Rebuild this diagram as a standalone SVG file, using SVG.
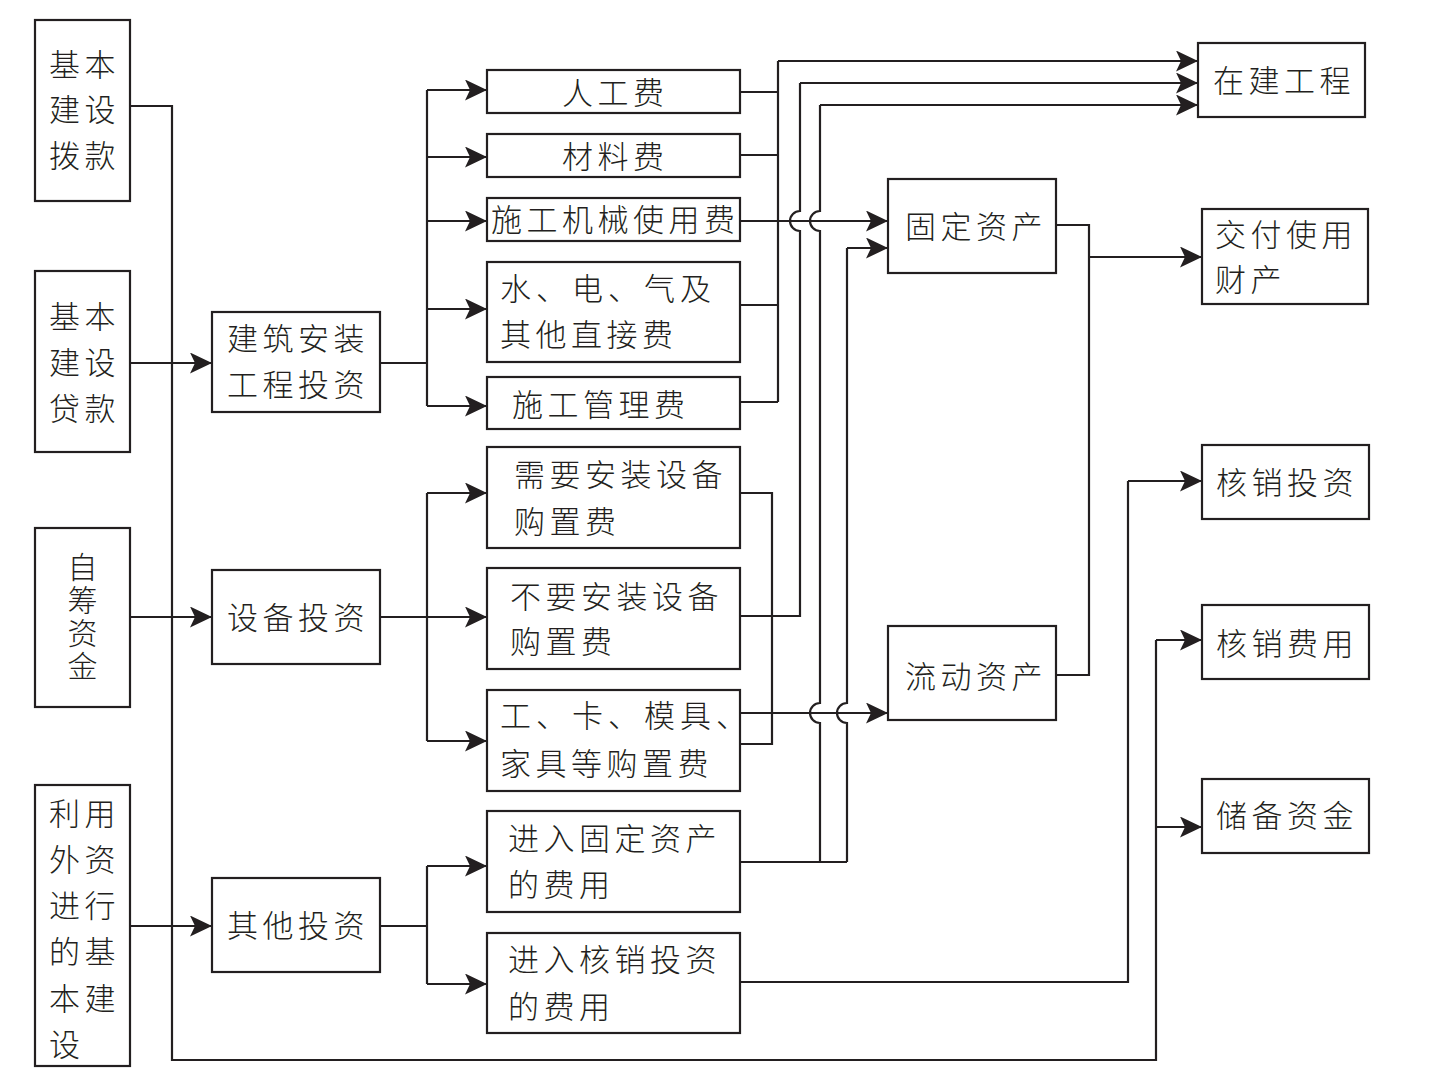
<svg xmlns="http://www.w3.org/2000/svg" width="1434" height="1076" viewBox="0 0 1434 1076">
<style>
.b{fill:#fff;stroke:#231f20;stroke-width:2.2}
.c{fill:none;stroke:#231f20;stroke-width:2.2}
.a{fill:none;stroke:#231f20;stroke-width:2.2;marker-end:url(#ah)}
text{font-family:"Noto Sans CJK SC",sans-serif;font-size:31px;font-weight:300;fill:#231f20;letter-spacing:4.5px}
.v{font-size:30px;letter-spacing:3px;writing-mode:vertical-rl}
</style>
<defs>
<marker id="ah" markerUnits="userSpaceOnUse" markerWidth="24" markerHeight="22" refX="22" refY="10.5" orient="auto">
<path d="M0,0 L22,10.5 L0,21 L5,10.5 Z" fill="#231f20"/>
</marker>
</defs>
<rect width="1434" height="1076" fill="#fff"/>
<g id="connectors">
<path class="c" d="M130,106 H172 V1060 H1156 V640"/>
<path class="a" d="M1156,640 H1202"/>
<path class="a" d="M1156,827 H1202"/>
<path class="a" d="M130,363 H212"/>
<path class="a" d="M130,617 H212"/>
<path class="a" d="M130,926 H212"/>
<path class="c" d="M380,363 H427 M427,90 V406"/>
<path class="a" d="M427,90 H487"/>
<path class="a" d="M427,157 H487"/>
<path class="a" d="M427,221 H487"/>
<path class="a" d="M427,309 H487"/>
<path class="a" d="M427,406 H487"/>
<path class="c" d="M380,617 H427 M427,493 V741"/>
<path class="a" d="M427,493 H487"/>
<path class="a" d="M427,617 H487"/>
<path class="a" d="M427,741 H487"/>
<path class="c" d="M380,926 H427 M427,866 V984"/>
<path class="a" d="M427,866 H487"/>
<path class="a" d="M427,984 H487"/>
<path class="c" d="M740,92 H778 M740,155 H778 M740,305 H778 M740,402 H778 M778,402 V61"/>
<path class="a" d="M778,61 H1198"/>
<path class="a" d="M740,221 H888"/>
<path class="c" d="M740,616 H800 V231 A10,10 0 0 1 800,211 V83"/>
<path class="a" d="M800,83 H1198"/>
<path class="c" d="M740,862 H847 M820,862 V723 A10,10 0 0 1 820,703 V231 A10,10 0 0 1 820,211 V105"/>
<path class="a" d="M820,105 H1198"/>
<path class="c" d="M847,862 V723 A10,10 0 0 1 847,703 V248"/>
<path class="a" d="M847,248 H888"/>
<path class="c" d="M740,493 H772 V744 H740"/>
<path class="a" d="M740,713 H888"/>
<path class="c" d="M1056,225 H1089 V675 H1056"/>
<path class="a" d="M1089,257 H1202"/>
<path class="c" d="M740,982 H1128 V481"/>
<path class="a" d="M1128,481 H1202"/>
</g>
<g id="n-bokuan"><rect class="b" x="35" y="20" width="95" height="181"/><text x="49" y="76">基本</text><text x="49" y="121">建设</text><text x="49" y="167">拨款</text></g>
<g id="n-daikuan"><rect class="b" x="35" y="271" width="95" height="181"/><text x="49" y="328">基本</text><text x="49" y="374">建设</text><text x="49" y="420">贷款</text></g>
<g id="n-zichou"><rect class="b" x="35" y="528" width="95" height="179"/><text class="v" x="82.5" y="552">自筹资金</text></g>
<g id="n-waizi"><rect class="b" x="35" y="785" width="95" height="281"/><text x="49" y="825">利用</text><text x="49" y="871">外资</text><text x="49" y="917">进行</text><text x="49" y="963">的基</text><text x="49" y="1010">本建</text><text x="49" y="1056">设</text></g>
<g id="n-jianzhu"><rect class="b" x="212" y="312" width="168" height="100"/><text x="227" y="350">建筑安装</text><text x="227" y="396">工程投资</text></g>
<g id="n-shebei"><rect class="b" x="212" y="570" width="168" height="94"/><text x="227" y="629">设备投资</text></g>
<g id="n-qita"><rect class="b" x="212" y="878" width="168" height="94"/><text x="227" y="937">其他投资</text></g>
<g id="n-rengong"><rect class="b" x="487" y="70" width="253" height="43"/><text x="562" y="104">人工费</text></g>
<g id="n-cailiao"><rect class="b" x="487" y="134" width="253" height="43"/><text x="562" y="168">材料费</text></g>
<g id="n-jixie"><rect class="b" x="487" y="198" width="253" height="43"/><text x="491" y="231">施工机械使用费</text></g>
<g id="n-shuidian"><rect class="b" x="487" y="262" width="253" height="100"/><text x="500" y="300" style="letter-spacing:5px">水、电、气及</text><text x="500" y="346">其他直接费</text></g>
<g id="n-guanli"><rect class="b" x="487" y="377" width="253" height="52"/><text x="512" y="416">施工管理费</text></g>
<g id="n-xuyao"><rect class="b" x="487" y="447" width="253" height="101"/><text x="514" y="486">需要安装设备</text><text x="514" y="533">购置费</text></g>
<g id="n-buyao"><rect class="b" x="487" y="568" width="253" height="101"/><text x="510" y="608">不要安装设备</text><text x="510" y="653">购置费</text></g>
<g id="n-gongka"><rect class="b" x="487" y="690" width="253" height="101"/><text x="500" y="727" style="letter-spacing:5px">工、卡、模具、</text><text x="500" y="775">家具等购置费</text></g>
<g id="n-jinru-guding"><rect class="b" x="487" y="811" width="253" height="101"/><text x="508" y="850">进入固定资产</text><text x="508" y="896">的费用</text></g>
<g id="n-jinru-hexiao"><rect class="b" x="487" y="933" width="253" height="100"/><text x="508" y="971">进入核销投资</text><text x="508" y="1018">的费用</text></g>
<g id="n-guding"><rect class="b" x="888" y="179" width="168" height="94"/><text x="905" y="238">固定资产</text></g>
<g id="n-liudong"><rect class="b" x="888" y="626" width="168" height="94"/><text x="905" y="688">流动资产</text></g>
<g id="n-zaijian"><rect class="b" x="1198" y="43" width="167" height="74"/><text x="1213" y="92">在建工程</text></g>
<g id="n-jiaofu"><rect class="b" x="1202" y="209" width="166" height="95"/><text x="1215" y="246">交付使用</text><text x="1215" y="291">财产</text></g>
<g id="n-hexiao-touzi"><rect class="b" x="1202" y="445" width="167" height="74"/><text x="1216" y="494">核销投资</text></g>
<g id="n-hexiao-feiyong"><rect class="b" x="1202" y="605" width="167" height="74"/><text x="1216" y="655">核销费用</text></g>
<g id="n-chubei"><rect class="b" x="1202" y="779" width="167" height="74"/><text x="1216" y="827">储备资金</text></g>
</svg>
